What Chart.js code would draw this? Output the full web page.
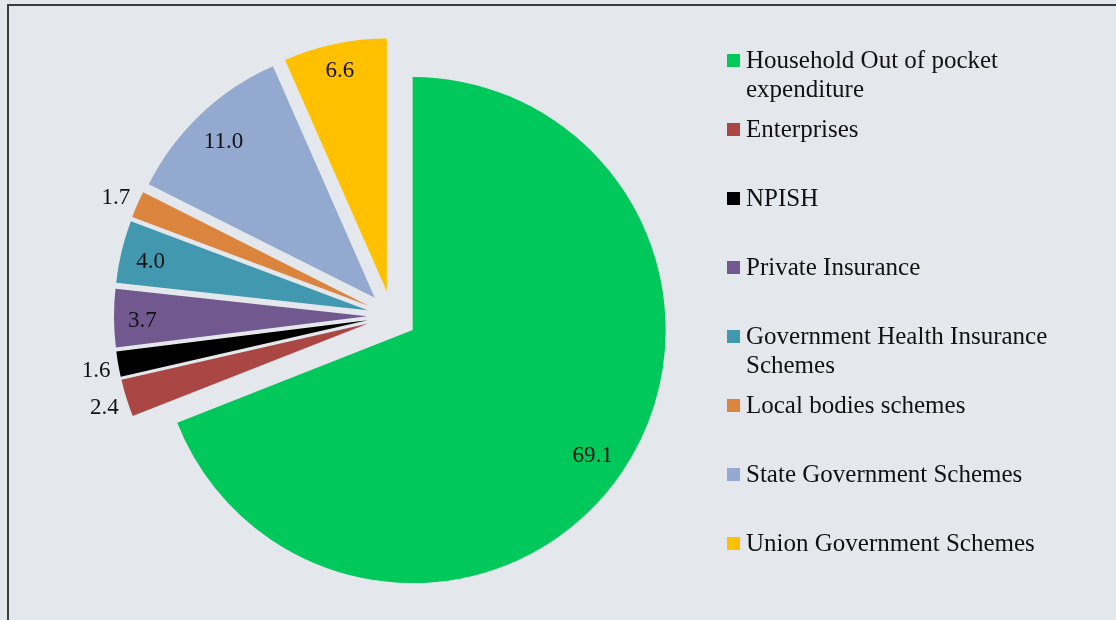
<!DOCTYPE html>
<html>
<head>
<meta charset="utf-8">
<script src="https://cdn.jsdelivr.net/npm/chart.js@4/dist/chart.umd.min.js"></script>
<style>
  html, body { margin: 0; padding: 0; background: #e4e8ed; overflow: hidden; }
  #frame { position: absolute; left: 7px; top: 4px; width: 1300px; height: 800px;
           border-left: 2px solid #3c3c3c; border-top: 2px solid #3c3c3c; }
  #chart { position: absolute; left: 0; top: 0; }
</style>
</head>
<body>
<div id="frame"></div>
<canvas id="chart" width="1116" height="620"></canvas>
<script>
const categories = [
  'Household Out of pocket expenditure',
  'Enterprises',
  'NPISH',
  'Private Insurance',
  'Government Health Insurance Schemes',
  'Local bodies schemes',
  'State Government Schemes',
  'Union Government Schemes'
];
const shares = [69.1, 2.4, 1.6, 3.7, 4.0, 1.7, 11.0, 6.6];
const sliceColors = ['#00c85a', '#aa4643', '#000000', '#71588f', '#4198af', '#db843d', '#93a9cf', '#ffc000'];

const EXPLODE = 25;
const FONT = '"Liberation Serif", "Times New Roman", serif';

// push every slice out from the centre along its mid angle
const explodeSlices = {
  id: 'explodeSlices',
  afterDatasetUpdate(chart, args) {
    args.meta.data.forEach(arc => {
      const mid = (arc.startAngle + arc.endAngle) / 2;
      arc.x += Math.cos(mid) * EXPLODE;
      arc.y += Math.sin(mid) * EXPLODE;
    });
  }
};

// value labels: inside for big slices, just outside for small ones
const sliceLabels = {
  id: 'sliceLabels',
  afterDatasetsDraw(chart) {
    const ctx = chart.ctx;
    const meta = chart.getDatasetMeta(0);
    ctx.save();
    ctx.font = '23px ' + FONT;
    ctx.fillStyle = '#111';
    ctx.textAlign = 'center';
    ctx.textBaseline = 'middle';
    meta.data.forEach((arc, i) => {
      const v = shares[i];
      const text = v.toFixed(1);
      const mid = (arc.startAngle + arc.endAngle) / 2;
      const dx = Math.cos(mid), dy = Math.sin(mid);
      const reach = ctx.measureText(text).width / 2 * Math.abs(dx) + 8 * Math.abs(dy);
      const d = v < 3 ? arc.outerRadius + 7 + reach : arc.outerRadius - 14 - reach;
      ctx.fillText(text, arc.x + dx * d, arc.y + dy * d + 3);
    });
    ctx.restore();
  }
};

function wrap(ctx, text, maxW) {
  const words = text.split(' ');
  const lines = [];
  let cur = '';
  words.forEach(w => {
    const t = cur ? cur + ' ' + w : w;
    if (cur && ctx.measureText(t).width > maxW) {
      lines.push(cur);
      cur = w;
    } else {
      cur = t;
    }
  });
  lines.push(cur);
  return lines;
}

const sideLegend = {
  id: 'sideLegend',
  afterDraw(chart) {
    const ctx = chart.ctx;
    ctx.save();
    ctx.font = '25px ' + FONT;
    ctx.textAlign = 'left';
    ctx.textBaseline = 'middle';
    categories.forEach((name, i) => {
      const y = 60 + i * 69;
      ctx.fillStyle = sliceColors[i];
      ctx.fillRect(727, y - 6, 13, 13);
      ctx.fillStyle = '#111';
      wrap(ctx, name, 330).forEach((line, j) => ctx.fillText(line, 746, y + 1 + j * 29));
    });
    ctx.restore();
  }
};

new Chart(document.getElementById('chart'), {
  type: 'pie',
  data: {
    labels: categories,
    datasets: [{
      data: shares,
      backgroundColor: sliceColors,
      borderWidth: 0
    }]
  },
  options: {
    responsive: false,
    animation: false,
    devicePixelRatio: 1,
    layout: { padding: { left: 139, top: 63, right: 471, bottom: 51 } },
    plugins: {
      legend: { display: false },
      tooltip: { enabled: false }
    }
  },
  plugins: [explodeSlices, sliceLabels, sideLegend]
});
</script>
</body>
</html>
